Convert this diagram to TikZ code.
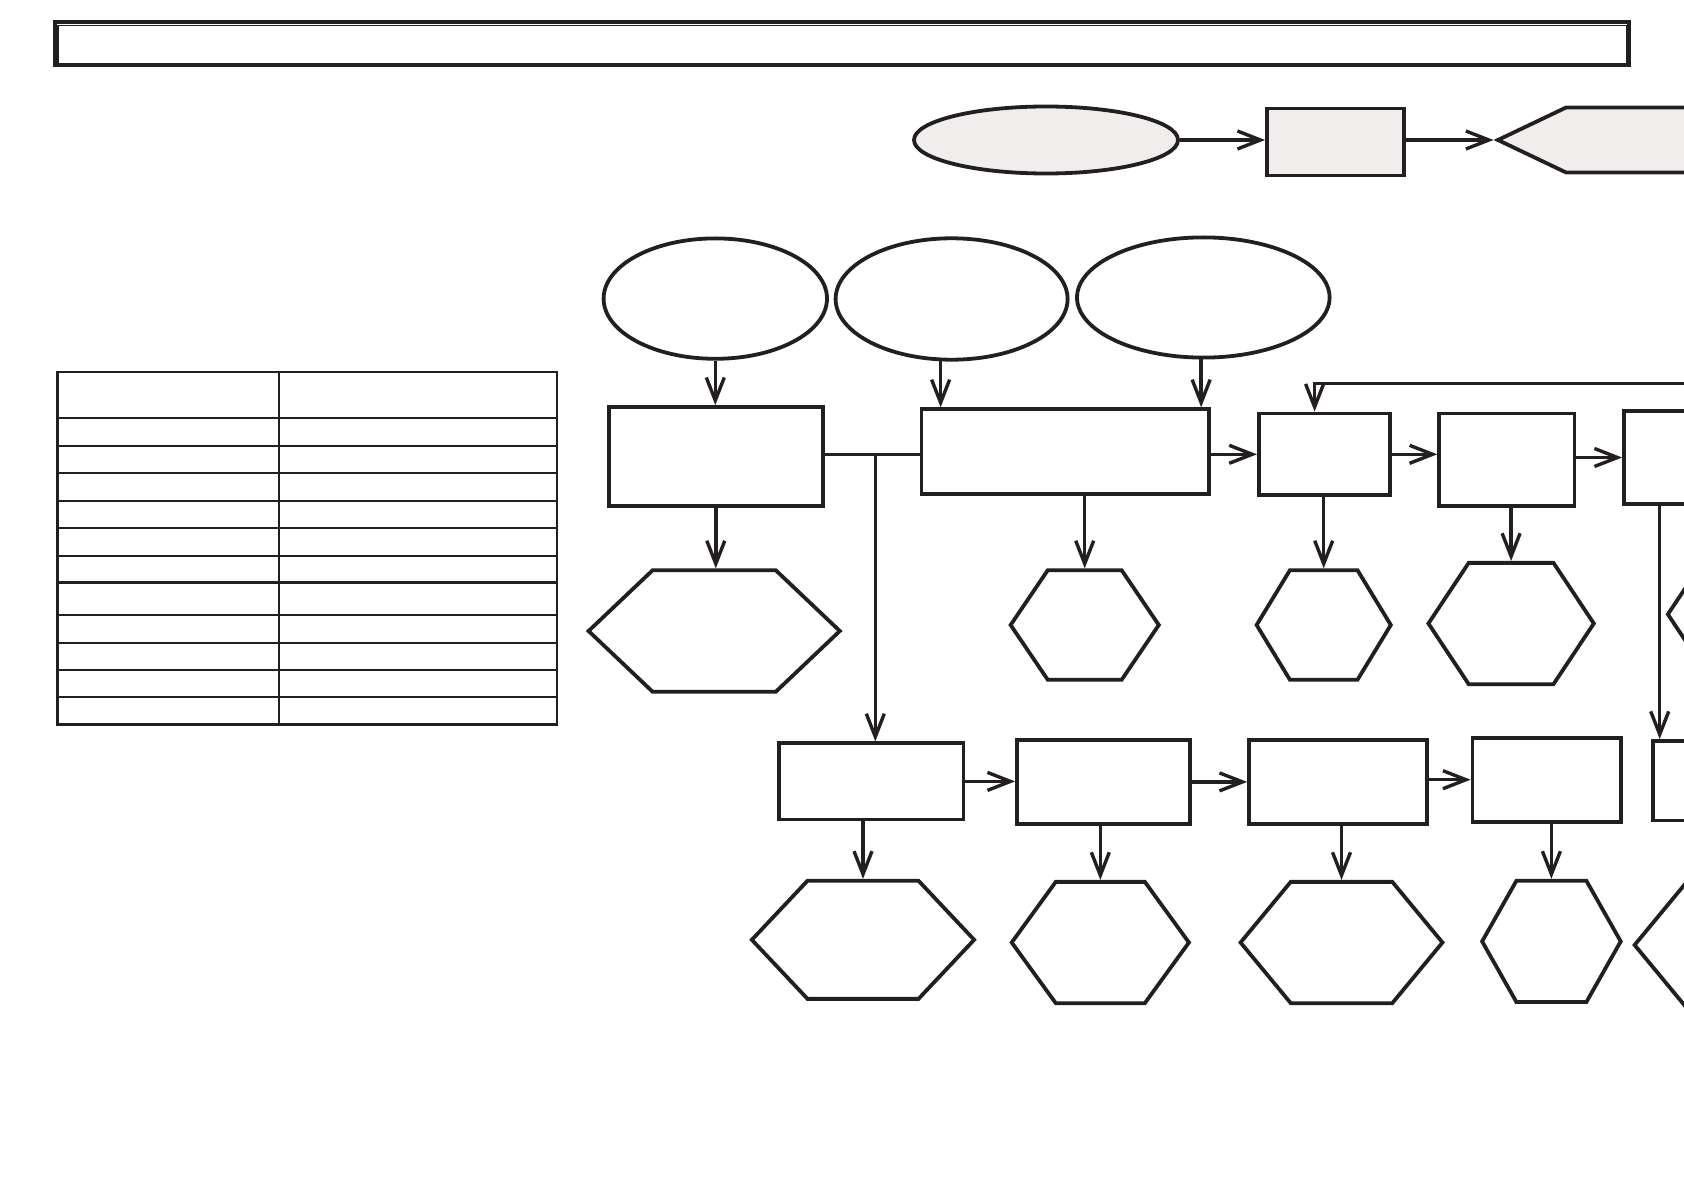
\documentclass[tikz,border=0pt]{standalone}
\usepackage{xcolor}
\usepackage{tikz}
\usetikzlibrary{arrows.meta,calc,positioning,shapes.geometric,shapes.symbols}
\definecolor{flowInk}{HTML}{231F20}
\definecolor{flowGray}{HTML}{EFEEED}

\begin{document}
\begin{tikzpicture}[x=1pt,y=-1pt]
  \tikzset{box/.style={draw=flowInk,line width=3.8pt,rectangle,inner sep=0pt},
    oval/.style={draw=flowInk,line width=3.8pt,ellipse,inner sep=0pt},
    hexa/.style={draw=flowInk,line width=3.8pt,signal,signal to=east and west,inner sep=0pt},
    link/.style={draw=flowInk,line width=3.4pt},
    arr/.style={link,-{Straight Barb[length=23pt,width=18pt]}},
    grid/.style={draw=flowInk,line width=2.4pt}}
  \useasboundingbox (0,0) rectangle (1684,1190);
  \node[box,line width=4pt,minimum width=1574pt,minimum height=43pt] (title) at (842,44) {};
  \draw[draw=flowInk,line width=1.6pt] ([shift={(5,5)}]title.north west) rectangle ([shift={(-4,-4)}]title.south east);
  \node[oval,fill=flowGray,minimum width=264pt,minimum height=67pt] (source) at (1046,140) {};
  \node[box,fill=flowGray,minimum width=137pt,minimum height=67pt] (intake) at (1335.5,142) {};
  \node[hexa,signal to=west,fill=flowGray,minimum width=310pt,minimum height=65pt,signal pointer angle=51] (outlet) at (1687,140) {};
  \draw[arr] (source.east) -- (source.east -| intake.west);
  \draw[arr] (intake.east |- outlet.west) -- (outlet.west);
  \draw[grid] (57.5,372) rectangle (557,724.3);
  \draw[grid] (279,372) -- (279,724.3);
  \foreach \y in {417.7,445.7,473,501,527.7,555.7,582.3,615,642.7,669.7,696.7}
    \draw[grid] (57.5,\y) -- (557,\y);
  \node[oval,minimum width=223.4pt,minimum height=120.4pt] (inA) at (715.3,298.6) {};
  \node[oval,minimum width=232pt,minimum height=121.4pt] (inB) at (951.6,299) {};
  \node[oval,minimum width=252.6pt,minimum height=120.2pt] (inC) at (1203.3,297.5) {};
  \node[box,minimum width=213.7pt,minimum height=98.9pt] (stageA) at (715.8,456.5) {};
  \node[box,minimum width=287.8pt,minimum height=84.8pt] (stageB) at (1065.4,451.6) {};
  \node[box,minimum width=131pt,minimum height=81.6pt] (stepOne) at (1324.3,454.3) {};
  \node[box,minimum width=135.3pt,minimum height=92.4pt] (stepTwo) at (1506.8,459.7) {};
  \node[box,minimum width=152pt,minimum height=92.4pt] (stepThree) at (1700,457.5) {};
  \node[hexa,minimum width=251.2pt,minimum height=121.4pt,signal pointer angle=87] (outA) at (714.2,631) {};
  \node[hexa,minimum width=148.2pt,minimum height=109.5pt,signal pointer angle=111.7] (outB) at (1084.7,625) {};
  \node[hexa,minimum width=134.2pt,minimum height=109.5pt,signal pointer angle=117.4] (outOne) at (1323.7,625) {};
  \node[hexa,minimum width=165.4pt,minimum height=121.3pt,signal pointer angle=112.8] (outTwo) at (1511.1,623.5) {};
  \node[hexa,minimum width=165pt,minimum height=121pt,signal pointer angle=112.8] (outThree) at (1750.4,614.3) {};
  \node[box,minimum width=184.8pt,minimum height=76.3pt] (lowA) at (871,781.4) {};
  \node[box,minimum width=173pt,minimum height=83.8pt] (lowB) at (1103.5,781.9) {};
  \node[box,minimum width=178.3pt,minimum height=83.8pt] (lowC) at (1338.2,781.9) {};
  \node[box,minimum width=148.2pt,minimum height=83.8pt] (lowD) at (1546.6,779.7) {};
  \node[box,minimum width=154pt,minimum height=79.5pt] (lowE) at (1730,780.7) {};
  \node[hexa,minimum width=222.3pt,minimum height=118.1pt,signal pointer angle=93.4] (endA) at (863,939.8) {};
  \node[hexa,minimum width=177.2pt,minimum height=121.3pt,signal pointer angle=108] (endB) at (1100.3,942.5) {};
  \node[hexa,minimum width=201.9pt,minimum height=121.3pt,signal pointer angle=100.8] (endC) at (1341.5,942.5) {};
  \node[hexa,minimum width=138.6pt,minimum height=121.3pt,signal pointer angle=121] (endD) at (1551.4,941.4) {};
  \node[hexa,minimum width=200pt,minimum height=121pt,signal pointer angle=100.8] (endE) at (1734.6,945) {};
  \coordinate (split) at (875.3,454.3);
  \coordinate (loopIn) at (1700,383.4);
  \draw[arr] (inA.south) -- (inA.south |- stageA.north);
  \draw[arr] (inB.-100) -- (inB.-100 |- stageB.north);
  \draw[arr] (inC.-92) -- (inC.-92 |- stageB.north);
  \draw[link] (stageA.east |- split) -- (stageB.west |- split);
  \draw[arr] (split) -- (split |- lowA.north);
  \draw[arr] (stepOne.west -| stageB.east) -- (stepOne.west);
  \draw[arr] (stepOne.east) -- (stepOne.east -| stepTwo.west);
  \draw[arr] (stepThree.west -| stepTwo.east) -- (stepThree.west);
  \draw[arr] (loopIn) -| ([xshift=-9.7pt]stepOne.north);
  \draw[arr] ([xshift=37.6pt]stepThree.south west) -- ([xshift=37.6pt]stepThree.south west |- lowE.north);
  \draw[arr] (stageA.south) -- (stageA.south |- outA.north);
  \draw[arr] (outB.north |- stageB.south) -- (outB.north);
  \draw[arr] (outOne.north |- stepOne.south) -- (outOne.north);
  \draw[arr] (outTwo.north |- stepTwo.south) -- (outTwo.north);
  \draw[arr] (lowA.east) -- (lowA.east -| lowB.west);
  \draw[arr] (lowB.east) -- (lowB.east -| lowC.west);
  \draw[arr] (lowD.west -| lowC.east) -- (lowD.west);
  \draw[arr] (endA.north |- lowA.south) -- (endA.north);
  \draw[arr] (endB.north |- lowB.south) -- (endB.north);
  \draw[arr] (endC.north |- lowC.south) -- (endC.north);
  \draw[arr] (endD.north |- lowD.south) -- (endD.north);
\end{tikzpicture}
\end{document}
